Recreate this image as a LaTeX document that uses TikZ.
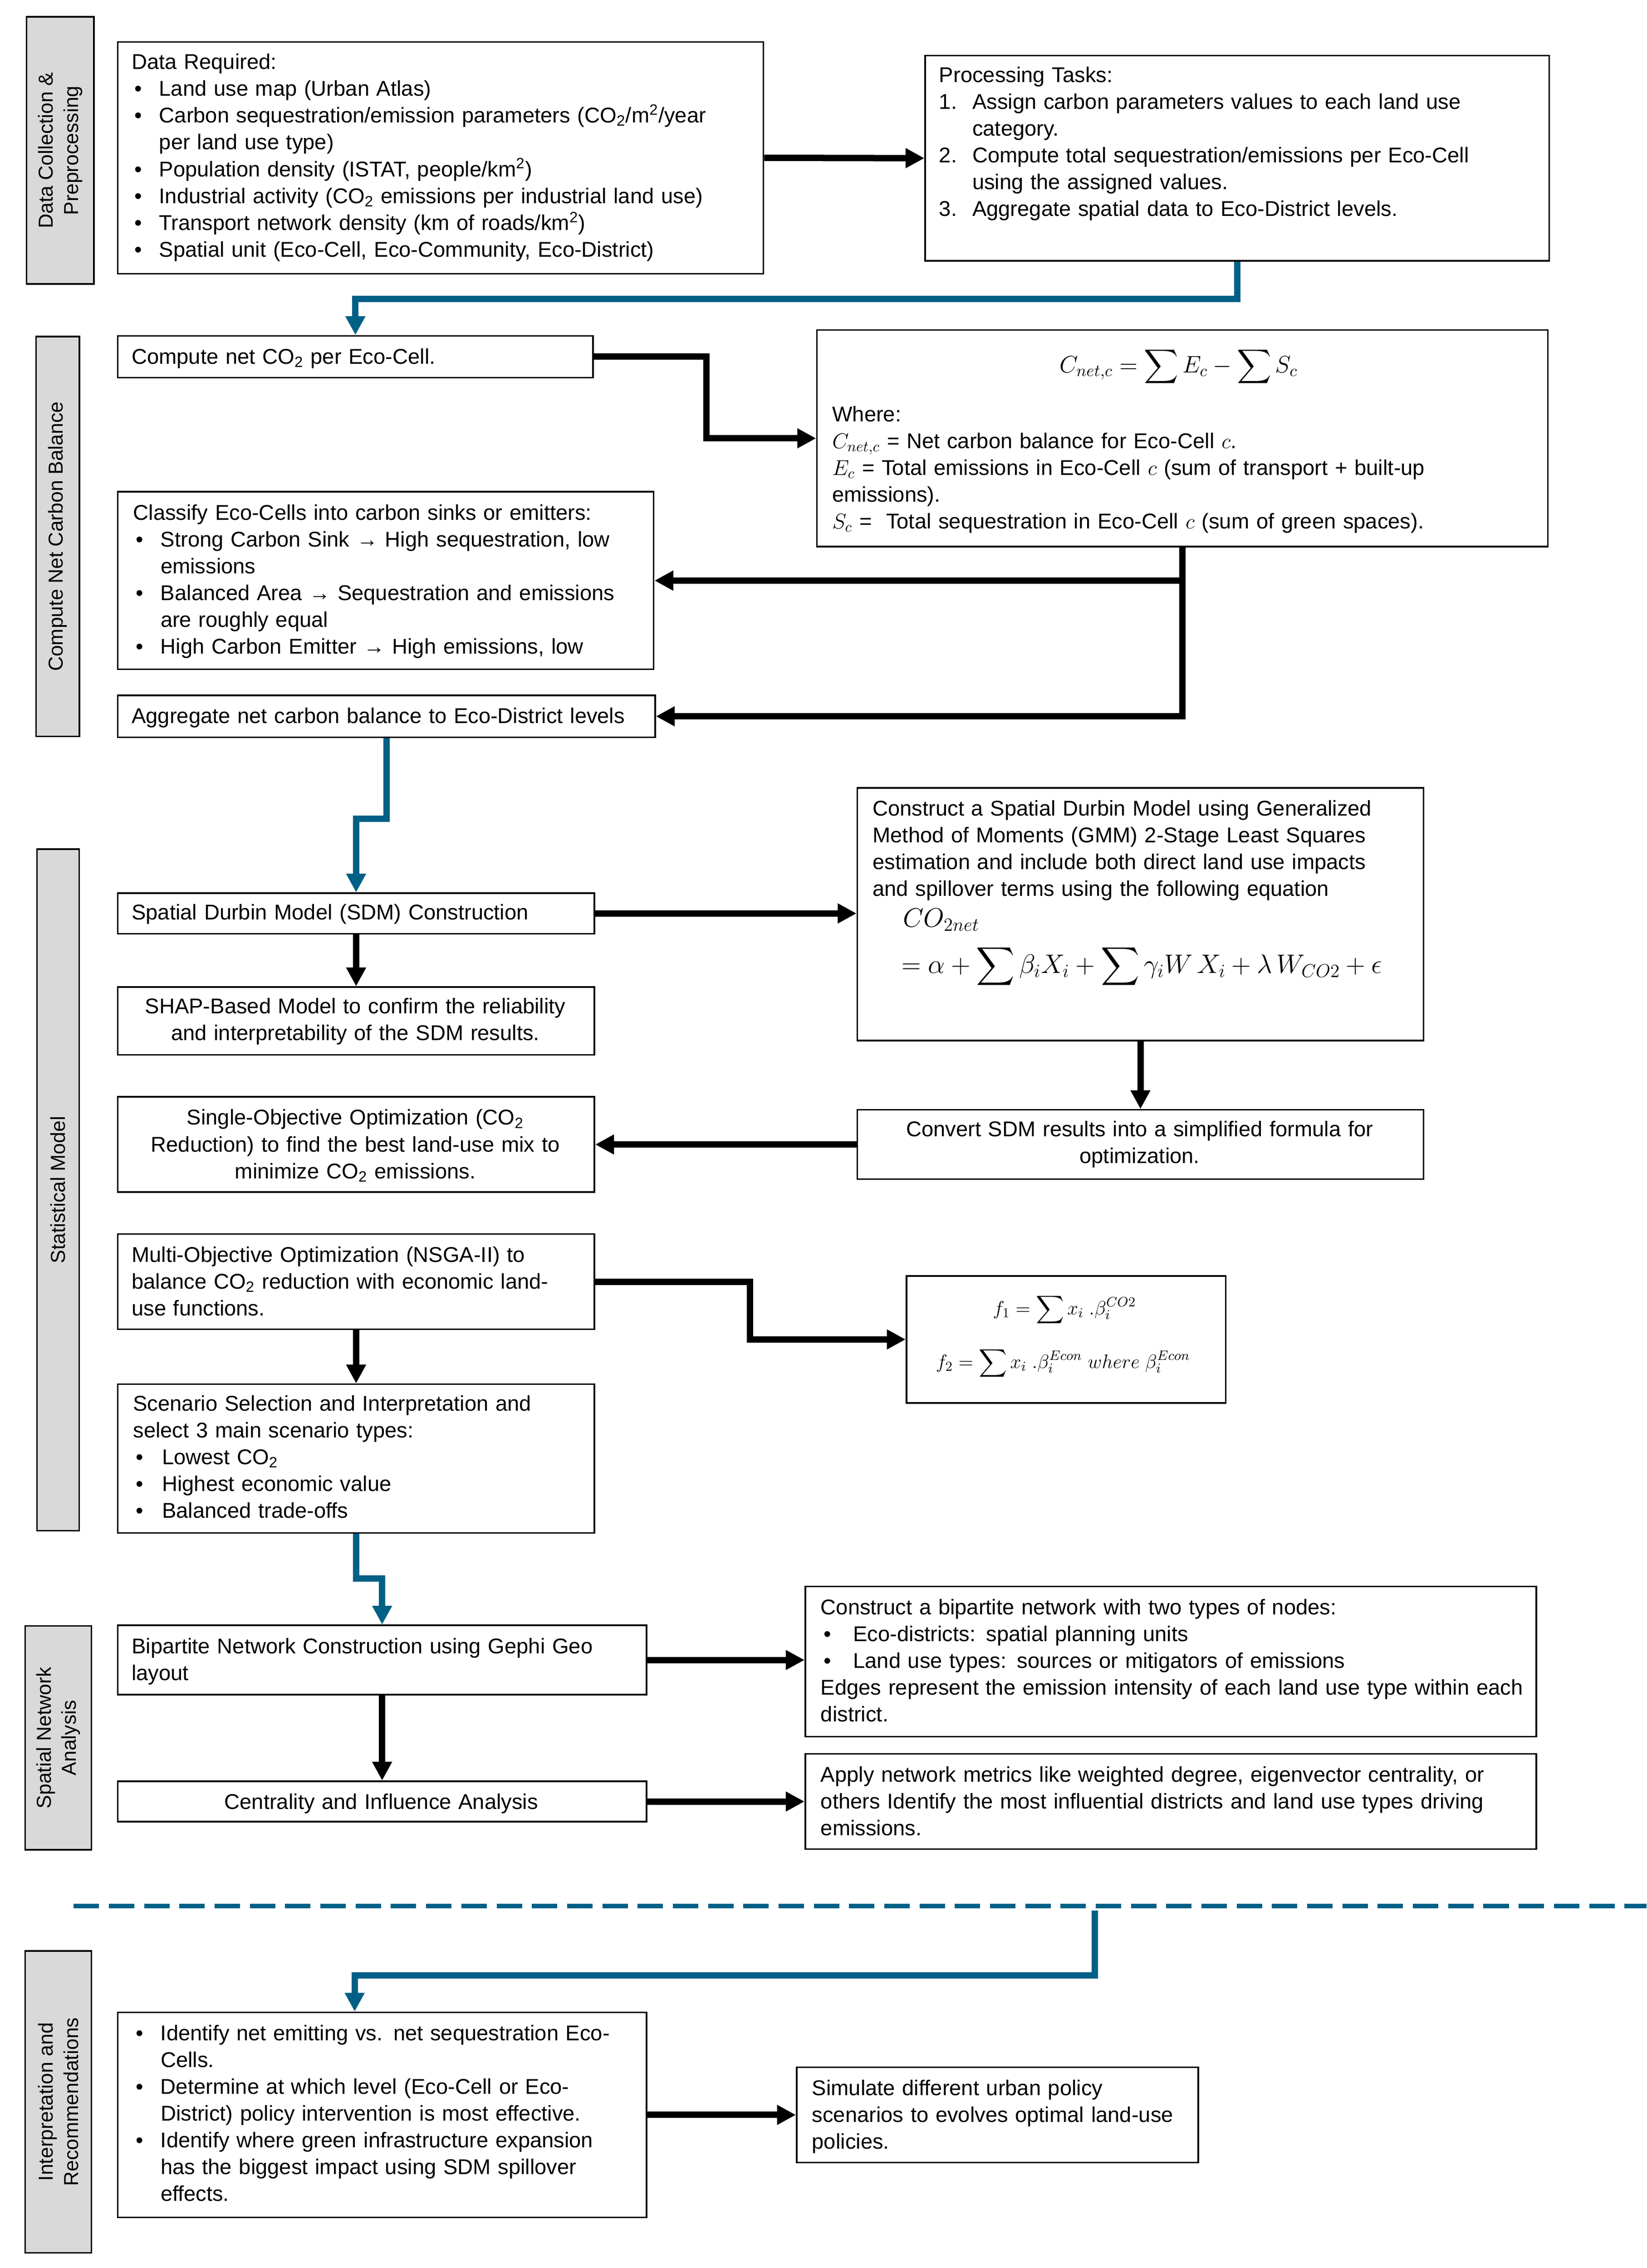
\RequirePackage{fix-cm}
\documentclass[tikz,border=0pt]{standalone}
\DeclareFontShape{OMX}{cmex}{m}{n}{<-> cmex10}{}
\usepackage{fontspec}
\setmainfont{Liberation Sans}
\usetikzlibrary{arrows.meta,calc}
\definecolor{bblue}{RGB}{0,96,134}
\definecolor{lgray}{RGB}{217,217,217}
\newcommand{\mainfs}{\fontsize{14.8pt}{18.55pt}\selectfont}
\newcommand{\sidefs}{\fontsize{14pt}{17.5pt}\selectfont}
\newcommand{\bu}[2][19pt]{\makebox[#1][l]{\hspace{2pt}\textbullet}#2}
\newcommand{\ind}[1][19pt]{\hspace*{#1}}
\newcommand{\nm}[2]{\makebox[23pt][l]{#1}#2}
\tikzset{
  box/.style={draw=black, line width=1.1pt, fill=white, inner sep=0pt, anchor=north west},
  side/.style={draw=black, line width=1.1pt, fill=lgray, inner sep=0pt, rotate=90, align=center, font=\sidefs},
  txt/.style={inner sep=0pt, anchor=base west, align=left, text width=700pt, font=\mainfs},
  ctxt/.style={inner sep=0pt, anchor=base, align=center, text width=600pt, font=\mainfs},
  arr/.style={draw=black, line width=4.4pt, -{Triangle[length=13pt,width=13pt]}},
  barr/.style={draw=bblue, line width=4.4pt, -{Triangle[length=13pt,width=13pt]}},
  dashline/.style={draw=bblue, line width=3pt, dash pattern=on 17.6pt off 6.8pt},
}
\begin{document}
\begin{tikzpicture}[x=1pt,y=-1pt]
\useasboundingbox (0,0) rectangle (1140,1570.6);
% side labels
\node[side, minimum width=185pt, minimum height=46.5pt] (s1) at (41.7,104.2) {Data Collection \&\\Preprocessing};
\node[side, minimum width=277pt, minimum height=30pt] (s2) at (40,371.5) {Compute Net Carbon Balance};
\node[side, minimum width=472pt, minimum height=29.2pt] (s3) at (40.2,824) {Statistical Model};
\node[side, minimum width=155pt, minimum height=45.8pt] (s4) at (40.4,1203.5) {Spatial Network\\Analysis};
\node[side, minimum width=209pt, minimum height=45.8pt] (s5) at (40.4,1455.5) {Interpretation and\\Recommendations};
% boxes
\node[box, minimum width=447pt, minimum height=160.5pt] (b1) at (81,28.5) {};
\node[box, minimum width=432pt, minimum height=142pt] (b2) at (640,38) {};
\node[box, minimum width=329pt, minimum height=29pt] (b3) at (81,232) {};
\node[box, minimum width=506pt, minimum height=150pt] (b4) at (565,228) {};
\node[box, minimum width=371pt, minimum height=123pt] (b5) at (81,340) {};
\node[box, minimum width=372pt, minimum height=29pt] (b6) at (81,481) {};
\node[box, minimum width=330pt, minimum height=28pt] (b7) at (81,618) {};
\node[box, minimum width=392pt, minimum height=175pt] (b8) at (593,545) {};
\node[box, minimum width=330pt, minimum height=47pt] (b9) at (81,683) {};
\node[box, minimum width=392pt, minimum height=48pt] (b10) at (593,768) {};
\node[box, minimum width=330pt, minimum height=66pt] (b11) at (81,759) {};
\node[box, minimum width=330pt, minimum height=66pt] (b12) at (81,854) {};
\node[box, minimum width=221pt, minimum height=88pt] (b13) at (627,883) {};
\node[box, minimum width=330pt, minimum height=103pt] (b14) at (81,958) {};
\node[box, minimum width=366pt, minimum height=48pt] (b15) at (81,1125) {};
\node[box, minimum width=506pt, minimum height=104pt] (b16) at (557,1098) {};
\node[box, minimum width=366pt, minimum height=28pt] (b17) at (81,1233) {};
\node[box, minimum width=506pt, minimum height=66pt] (b18) at (557,1214) {};
\node[box, minimum width=366pt, minimum height=142pt] (b19) at (81,1393) {};
\node[box, minimum width=278pt, minimum height=66pt] (b20) at (551,1431) {};
% texts
\node[txt] (t1) at (91,48) {Data Required:\\
\bu{Land use map (Urban Atlas)}\\
\bu{Carbon sequestration/emission parameters (CO\textsubscript{2}/m\textsuperscript{2}/year}\\
\ind per land use type)\\
\bu{Population density (ISTAT, people/km\textsuperscript{2})}\\
\bu{Industrial activity (CO\textsubscript{2} emissions per industrial land use)}\\
\bu{Transport network density (km of roads/km\textsuperscript{2})}\\
\bu{Spatial unit (Eco-Cell, Eco-Community, Eco-District)}};
\node[txt] (t2) at (650,57) {Processing Tasks:\\
\nm{1.}{Assign carbon parameters values to each land use}\\
\ind[23pt]category.\\
\nm{2.}{Compute total sequestration/emissions per Eco-Cell}\\
\ind[23pt]using the assigned values.\\
\nm{3.}{Aggregate spatial data to Eco-District levels.}};
\node[txt] (t3) at (91,252) {Compute net CO\textsubscript{2} per Eco-Cell.};
\node[inner sep=0pt, font=\fontsize{16.5pt}{20pt}\selectfont] (f1) at (816,254) {$\displaystyle C_{net,c} = \sum E_c - \sum S_c$};
\node[txt] (t4) at (576,292) {Where:\\
$C_{net,c}$ = Net carbon balance for Eco-Cell $c$.\\
$E_c$ = Total emissions in Eco-Cell $c$ (sum of transport + built-up\\
emissions).\\
$S_c$ = \ Total sequestration in Eco-Cell $c$ (sum of green spaces).};
\node[txt] (t5) at (92,360) {Classify Eco-Cells into carbon sinks or emitters:\\
\bu{Strong Carbon Sink → High sequestration, low}\\
\ind emissions\\
\bu{Balanced Area → Sequestration and emissions}\\
\ind are roughly equal\\
\bu{High Carbon Emitter → High emissions, low}};
\node[txt] (t6) at (91,501) {Aggregate net carbon balance to Eco-District levels};
\node[txt] (t7) at (91,637) {Spatial Durbin Model (SDM) Construction};
\node[txt] (t8) at (604,565) {Construct a Spatial Durbin Model using Generalized\\
Method of Moments (GMM) 2-Stage Least Squares\\
estimation and include both direct land use impacts\\
and spillover terms using the following equation};
\node[inner sep=0pt, anchor=base west, font=\fontsize{18.5pt}{22pt}\selectfont] (e1) at (625,642) {$CO_{2net}$};
\node[inner sep=0pt, anchor=base west, font=\fontsize{18.5pt}{22pt}\selectfont] (e2) at (624,674) {$\displaystyle = \alpha + \sum \beta_i X_i + \sum \gamma_i W\, X_i + \lambda\, W_{CO2} + \epsilon$};
\node[ctxt] (t9) at (246,702) {SHAP-Based Model to confirm the reliability\\and interpretability of the SDM results.};
\node[ctxt] (t10) at (789,787) {Convert SDM results into a simplified formula for\\optimization.};
\node[ctxt] (t11) at (246,779) {Single-Objective Optimization (CO\textsubscript{2}\\Reduction) to find the best land-use mix to\\minimize CO\textsubscript{2} emissions.};
\node[txt] (t12) at (91,874) {Multi-Objective Optimization (NSGA-II) to\\
balance CO\textsubscript{2} reduction with economic land-\\
use functions.};
\node[inner sep=0pt, font=\fontsize{13.5pt}{16pt}\selectfont] (g1) at (737,907) {$\displaystyle f_1 = \sum x_i\ .\beta_i^{CO2}$};
\node[inner sep=0pt, font=\fontsize{13.5pt}{16pt}\selectfont] (g2) at (736,944) {$\displaystyle f_2 = \sum x_i\ .\beta_i^{Econ}\ where\ \beta_i^{Econ}$};
\node[txt] (t14) at (92,977) {Scenario Selection and Interpretation and\\
select 3 main scenario types:\\
\bu[20pt]{Lowest CO\textsubscript{2}}\\
\bu[20pt]{Highest economic value}\\
\bu[20pt]{Balanced trade-offs}};
\node[txt] (t15) at (91,1145) {Bipartite Network Construction using Gephi Geo\\layout};
\node[txt] (t16) at (568,1118) {Construct a bipartite network with two types of nodes:\\
\bu[21pt]{\hspace{1.5pt}Eco-districts: spatial planning units}\\
\bu[21pt]{\hspace{1.5pt}Land use types: sources or mitigators of emissions}\\
Edges represent the emission intensity of each land use type within each\\
district.};
\node[ctxt] (t17) at (264,1253) {Centrality and Influence Analysis};
\node[txt] (t18) at (568,1234) {Apply network metrics like weighted degree, eigenvector centrality, or\\
others Identify the most influential districts and land use types driving\\
emissions.};
\node[txt] (t19) at (92,1413) {\bu{Identify net emitting vs. net sequestration Eco-}\\
\ind Cells.\\
\bu{Determine at which level (Eco-Cell or Eco-}\\
\ind District) policy intervention is most effective.\\
\bu{Identify where green infrastructure expansion}\\
\ind has the biggest impact using SDM spillover\\
\ind effects.};
\node[txt] (t20) at (562,1451) {Simulate different urban policy\\
scenarios to evolves optimal land-use\\
policies.};
% connectors
\draw[arr] (b1.east) -- (b2.west);
\draw[barr] (b2.south) -- ++(0,26) -| (b3.north);
\draw[arr] (b3.east) -- ++(78,0) |- (b4.west);
\draw[arr] (b4.south |- b5.east) -- (b5.east);
\draw[arr] (b4.south) |- (b6.east);
\draw[barr] (b6.south) -- ++(0,56) -| (b7.north);
\draw[arr] (b7.east) -- (b7.east -| b8.west);
\draw[arr] (b7.south) -- (b9.north);
\draw[arr] (b8.south) -- (b10.north);
\draw[arr] (b10.west) -- (b10.west -| b11.east);
\draw[arr] (b12.east) -- ++(107,0) |- (b13.west);
\draw[arr] (b12.south) -- (b14.north);
\draw[barr] (b14.south) -- ++(0,31) -| (b15.north);
\draw[arr] (b15.east) -- (b15.east -| b16.west);
\draw[arr] (b15.south) -- (b17.north);
\draw[arr] (b17.east) -- (b17.east -| b18.west);
\coordinate (dl) at (51,1320);
\coordinate (dr) at (1140,1320);
\draw[dashline] (dl) -- (dr);
\coordinate (ds) at (758,1323);
\draw[barr] (ds) -- ++(0,45) -| ([xshift=-19pt]b19.north);
\draw[arr] (b19.east) -- (b20.west);
\end{tikzpicture}
\end{document}
